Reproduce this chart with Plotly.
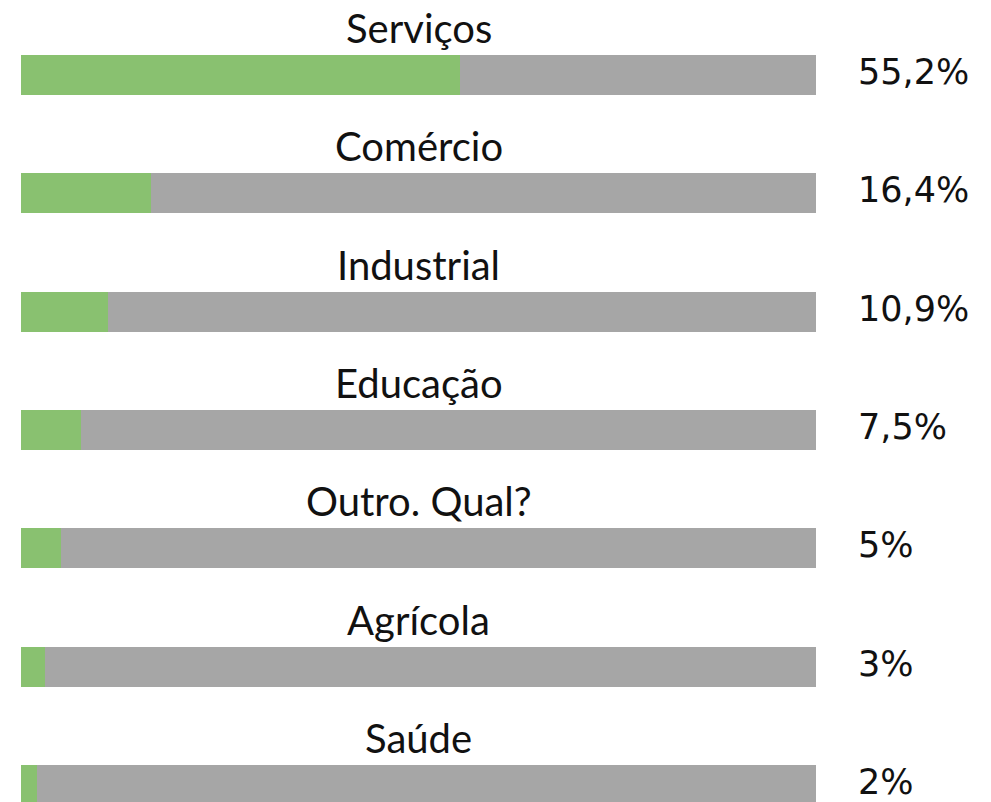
import plotly.graph_objects as go

categories = ["Serviços", "Comércio", "Industrial", "Educação", "Outro. Qual?", "Agrícola", "Saúde"]
values = [55.2, 16.4, 10.9, 7.5, 5, 3, 2]
value_labels = ["55,2%", "16,4%", "10,9%", "7,5%", "5%", "3%", "2%"]
track_total = 100

GREEN = "#89C170"
GRAY = "#A6A6A6"

W, H = 991, 802
px_per_unit = 7.95          # track of 100 units spans ~795 px
x0_px = 21                  # left edge of the tracks
row_px = 118.33             # spacing between rows
first_center_px = 75
label_px = 856

rows = list(range(len(categories)))

fig = go.Figure()
fig.add_trace(go.Bar(
    y=rows, x=[track_total] * len(rows), base=0, orientation="h",
    marker=dict(color=GRAY, line=dict(width=0)), width=40 / row_px,
    hoverinfo="skip", showlegend=False,
))
fig.add_trace(go.Bar(
    y=rows, x=values, base=0, orientation="h",
    marker=dict(color=GREEN, line=dict(width=0)), width=40 / row_px,
    hoverinfo="skip", showlegend=False,
))

for i, (cat, lab) in enumerate(zip(categories, value_labels)):
    fig.add_annotation(
        x=track_total / 2, y=i, xref="x", yref="y", text=cat, showarrow=False,
        xanchor="center", yanchor="middle", yshift=47,
        font=dict(family="Lato, 'Open Sans', sans-serif", size=40, color="#111111"),
    )
    fig.add_annotation(
        x=(label_px - x0_px) / px_per_unit, y=i, xref="x", yref="y", text=lab, showarrow=False,
        xanchor="left", yanchor="middle", yshift=3,
        font=dict(family="DejaVu Sans, sans-serif", size=35, color="#111111"),
    )

fig.update_layout(
    width=W, height=H, margin=dict(l=0, r=0, t=0, b=0),
    barmode="overlay", bargap=0,
    paper_bgcolor="white", plot_bgcolor="white",
    xaxis=dict(range=[-x0_px / px_per_unit, (W - x0_px) / px_per_unit],
               visible=False, fixedrange=True),
    yaxis=dict(range=[(H - first_center_px) / row_px, -first_center_px / row_px],
               visible=False, fixedrange=True),
)

fig.write_html(
    "out.html",
    config={"displayModeBar": False},
    post_script="document.body.style.margin='0';document.body.style.overflow='hidden';",
)
